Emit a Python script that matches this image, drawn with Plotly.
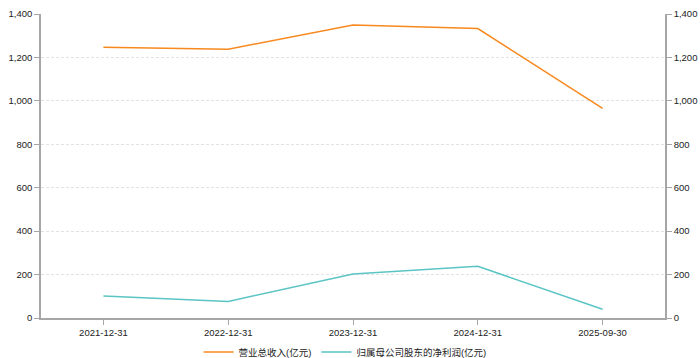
import plotly.graph_objects as go

categories = ["2021-12-31", "2022-12-31", "2023-12-31", "2024-12-31", "2025-09-30"]
revenue = [1247, 1238, 1349, 1333, 965]
net_profit = [101, 76, 203, 238, 40]
y_ticks = [0, 200, 400, 600, 800, 1000, 1200, 1400]
y_tick_labels = ["0", "200", "400", "600", "800", "1,000", "1,200", "1,400"]

font_family = "Liberation Sans, Arial, Noto Sans CJK SC, sans-serif"
fs = 9.5
txt = "#222222"

fig = go.Figure()
fig.add_trace(go.Scatter(x=categories, y=revenue, mode="lines", name="营业总收入(亿元)",
                         line=dict(color="#F7891E", width=1.5)))
fig.add_trace(go.Scatter(x=categories, y=net_profit, mode="lines", name="归属母公司股东的净利润(亿元)",
                         line=dict(color="#5BC4C4", width=1.5)))
fig.add_trace(go.Scatter(x=categories, y=revenue, mode="lines", yaxis="y2", showlegend=False,
                         hoverinfo="skip", line=dict(color="rgba(0,0,0,0)", width=0)))

axis_common = dict(range=[0, 1400], tickvals=y_ticks, ticktext=y_tick_labels,
                   showline=True, linecolor="#A6A6A6", linewidth=1.5,
                   ticks="outside", ticklen=5, tickcolor="#A6A6A6",
                   tickfont=dict(size=fs, color=txt, family=font_family),
                   zeroline=False, automargin=False)

fig.update_layout(
    width=700, height=358,
    margin=dict(l=41, r=35, t=14, b=40, autoexpand=False),
    paper_bgcolor="white", plot_bgcolor="white",
    font=dict(family=font_family, size=fs, color=txt),
    xaxis=dict(type="category", range=[-0.5, 4.5], showline=True, linecolor="#A6A6A6",
               linewidth=1.5, ticks="outside", ticklen=5, tickcolor="#A6A6A6",
               showgrid=False, tickfont=dict(size=fs, color=txt), automargin=False),
    yaxis=dict(**axis_common, showgrid=True, gridcolor="#E2E2E2", griddash="3px,2px", gridwidth=1),
    yaxis2=dict(**axis_common, overlaying="y", side="right", showgrid=False),
    legend=dict(orientation="h", x=0.493, xanchor="center", xref="container",
                y=0.017, yanchor="middle", yref="container",
                font=dict(size=fs, color=txt), itemwidth=30, tracegroupgap=0),
    showlegend=True,
)

fig.write_html("out.html", config={"displayModeBar": False},
               post_script="document.body.style.margin='0';")
